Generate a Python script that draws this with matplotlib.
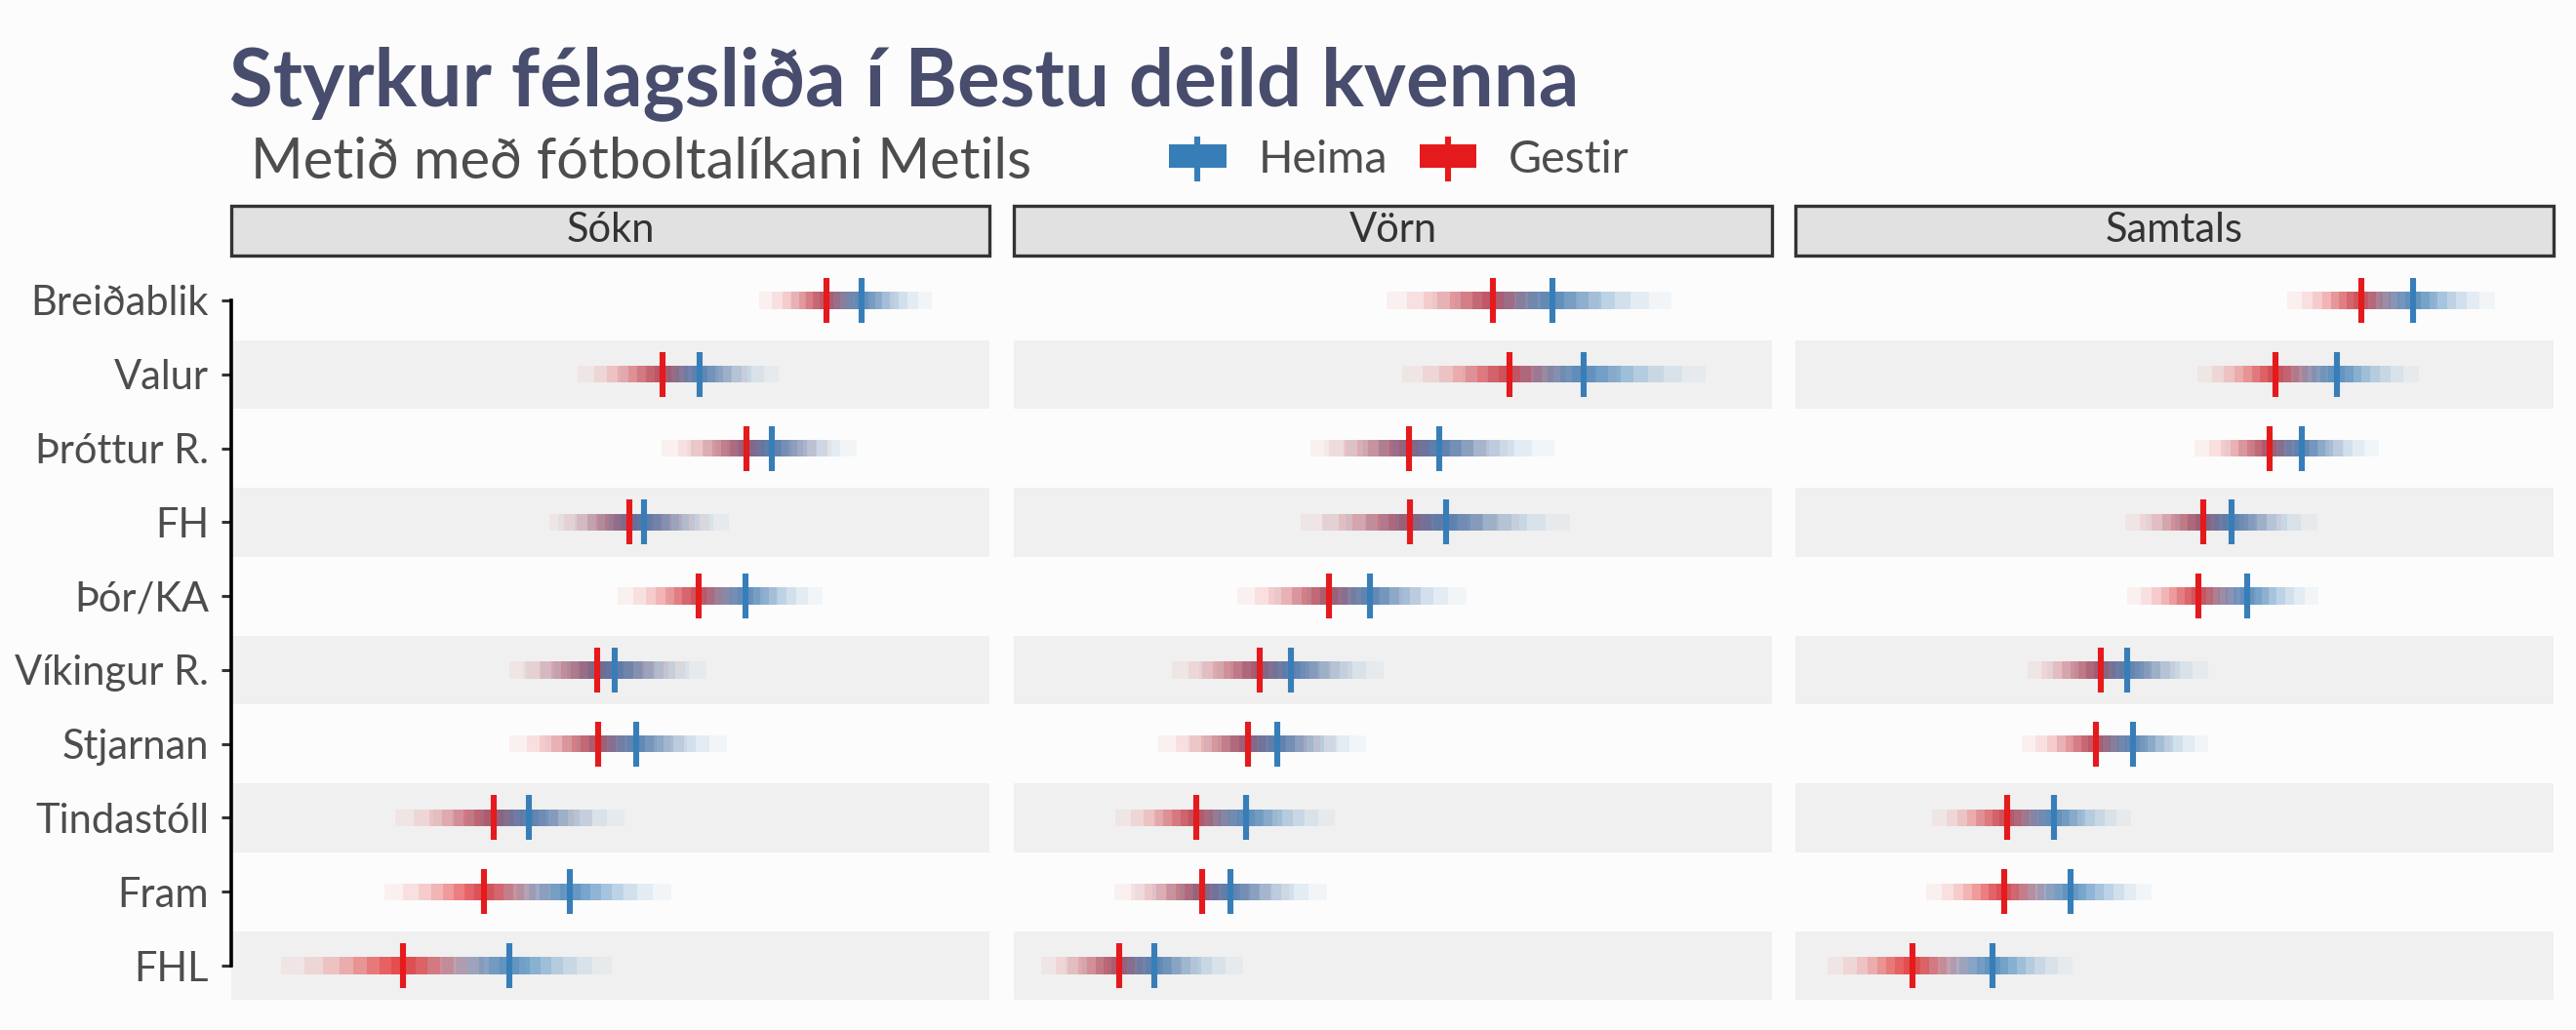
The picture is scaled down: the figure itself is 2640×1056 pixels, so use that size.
import matplotlib
matplotlib.use("Agg")
import matplotlib.pyplot as plt
from matplotlib.patches import Patch, Rectangle
from matplotlib.lines import Line2D
from matplotlib.legend_handler import HandlerTuple
from statistics import NormalDist

plt.rcParams['font.family'] = ['Lato', 'DejaVu Sans']

# --- DATA ---

teams = ["Breiðablik", "Valur", "Þróttur R.", "FH", "Þór/KA",
         "Víkingur R.", "Stjarnan", "Tindastóll", "Fram", "FHL"]
facets = ["Sókn", "Vörn", "Samtals"]

# medians, on each panel's own scale (0-100)
sokn_heima = [83.1, 61.8, 71.3, 54.4, 67.8, 50.6, 53.4, 39.3, 44.7, 36.7]
sokn_gestir = [78.5, 56.9, 68.0, 52.5, 61.6, 48.3, 48.4, 34.6, 33.3, 22.7]
vorn_heima = [71.0, 75.2, 56.1, 57.0, 47.0, 36.6, 34.7, 30.6, 28.6, 18.5]
vorn_gestir = [63.2, 65.4, 52.1, 52.3, 41.6, 32.4, 30.9, 24.1, 24.8, 13.9]
samtals_heima = [81.5, 71.4, 66.8, 57.5, 59.6, 43.8, 44.5, 34.1, 36.3, 26.0]
samtals_gestir = [74.6, 63.3, 62.5, 53.8, 53.2, 40.3, 39.6, 27.9, 27.5, 15.4]

# half-width of the widest (80%) interval
sokn_heima_h80 = [9.3, 10.4, 11.2, 11.3, 10.2, 12.1, 12.0, 12.6, 13.4, 13.5]
sokn_gestir_h80 = [8.9, 11.2, 11.2, 10.6, 10.6, 11.6, 11.7, 13.0, 13.1, 16.1]
vorn_heima_h80 = [15.8, 16.0, 15.2, 16.3, 12.7, 12.2, 11.8, 11.8, 12.7, 11.7]
vorn_gestir_h80 = [14.0, 14.2, 13.0, 14.4, 12.1, 11.6, 11.8, 10.7, 11.5, 10.3]
samtals_heima_h80 = [10.8, 10.9, 10.2, 11.3, 9.4, 10.6, 10.0, 10.2, 10.7, 10.6]
samtals_gestir_h80 = [9.7, 10.3, 9.8, 10.3, 9.4, 9.7, 9.8, 9.9, 10.2, 11.2]

levels = [0.8, 0.7, 0.6, 0.5, 0.4, 0.3, 0.2, 0.1]
level_alpha = [0.05, 0.07, 0.10, 0.13, 0.17, 0.21, 0.25, 0.28]

panels = [
    (sokn_heima, sokn_heima_h80, sokn_gestir, sokn_gestir_h80),
    (vorn_heima, vorn_heima_h80, vorn_gestir, vorn_gestir_h80),
    (samtals_heima, samtals_heima_h80, samtals_gestir, samtals_gestir_h80),
]

# --- STYLE ---

BG = '#FCFCFC'
BAND = '#F0F0F0'
BLUE = '#377EB8'
RED = '#E41A1C'
W, H = 2640, 1056
panel_x = [237, 1039, 1840]
panel_w = 777
top, bottom = 262.5, 1035.5

fig = plt.figure(figsize=(W / 200, H / 200), dpi=200, facecolor=BG)

rows = list(range(len(teams)))
z80 = NormalDist().inv_cdf(0.5 + levels[0] / 2)

for i, (heima, heima_h, gestir, gestir_h) in enumerate(panels):
    ax = fig.add_axes([panel_x[i] / W, 1 - bottom / H, panel_w / W, (bottom - top) / H])
    ax.set_facecolor(BG)
    ax.set_xlim(0, 100)
    ax.set_ylim(len(teams) - 1 + 0.6, -0.6)

    # alternating row bands
    ax.barh(rows[1::2], 100, left=0, height=0.93, color=BAND, lw=0, zorder=0)

    # nested intervals, widest first
    for centers, h80, col in [(gestir, gestir_h, RED), (heima, heima_h, BLUE)]:
        for lev, a in zip(levels, level_alpha):
            k = NormalDist().inv_cdf(0.5 + lev / 2) / z80
            hw = [h * k for h in h80]
            ax.barh(rows, [2 * h for h in hw], left=[c - h for c, h in zip(centers, hw)],
                    height=0.23, color=col, alpha=a, lw=0, zorder=2)

    ax.plot(gestir, rows, ls='none', marker='|', ms=16.5, mew=2.2, color=RED, zorder=3)
    ax.plot(heima, rows, ls='none', marker='|', ms=16.5, mew=2.2, color=BLUE, zorder=4)

    ax.set_xticks([])
    for s in ['top', 'right', 'bottom']:
        ax.spines[s].set_visible(False)
    if i == 0:
        ax.set_yticks(rows, teams)
        ax.tick_params(axis='y', length=3.6, width=1.1, color='#333333',
                       labelcolor='#4D4D4D', labelsize=15, pad=4.7)
        ax.spines['left'].set_bounds(0, len(teams) - 1)
        ax.spines['left'].set_linewidth(1.3)
        ax.spines['left'].set_color('black')
    else:
        ax.set_yticks([])
        ax.spines['left'].set_visible(False)

    # facet strip
    fig.add_artist(Rectangle((panel_x[i] / W, 1 - 262 / H), panel_w / W, 51 / H,
                             transform=fig.transFigure, facecolor='#E1E1E1',
                             edgecolor='#333333', lw=1.2))
    fig.text((panel_x[i] + panel_w / 2) / W, 1 - 236.5 / H, facets[i], ha='center',
             va='center', fontsize=15, color='#333333')

# --- TITLES AND LEGEND ---

fig.text(235 / W, 1 - 108 / H, "Styrkur félagsliða í Bestu deild kvenna",
         fontsize=29.4, fontweight='bold', color='#484D6D', va='baseline')
fig.text(257 / W, 1 - 183 / H, "Metið með fótboltalíkani Metils",
         fontsize=20.9, color='#4D4D4D', va='baseline')

handles = [
    (Patch(facecolor=BLUE, lw=0),
     Line2D([], [], color=BLUE, marker='|', ls='none', ms=16.5, mew=2.2)),
    (Patch(facecolor=RED, lw=0),
     Line2D([], [], color=RED, marker='|', ls='none', ms=16.5, mew=2.2)),
]
leg = fig.legend(handles, ["Heima", "Gestir"],
                 handler_map={tuple: HandlerTuple(ndivide=1, pad=0)},
                 loc='center left', bbox_to_anchor=(1198 / W, 1 - 164 / H), ncol=2,
                 frameon=False, fontsize=16.8, handlelength=1.26, handleheight=0.41,
                 handletextpad=0.7, columnspacing=0.7, borderpad=0, borderaxespad=0)
for t in leg.get_texts():
    t.set_color('#4D4D4D')

fig.savefig("out.png", dpi=200, facecolor=BG)
